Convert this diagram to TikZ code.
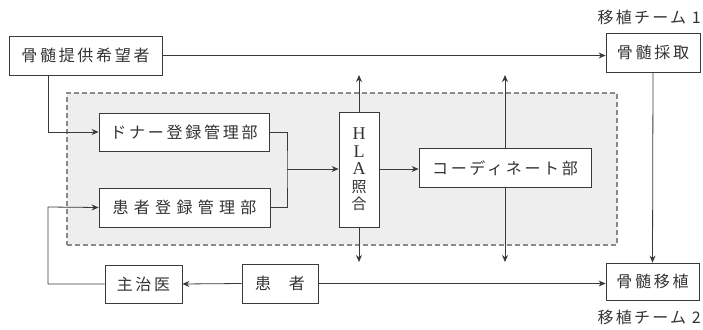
\documentclass[tikz,border=0pt]{standalone}
\usepackage{fontspec}
\setmainfont{Liberation Serif}
\newfontfamily\jp{Noto Sans CJK JP}[LetterSpace=17]
\newfontfamily\jpwide{Noto Sans CJK JP}[LetterSpace=33]
\newfontfamily\jplab{Noto Sans CJK JP}[LetterSpace=14]
\newfontfamily\jpplain{Noto Sans CJK JP}
\usetikzlibrary{arrows.meta}
\definecolor{linec}{HTML}{3A3A3A}
\definecolor{textc}{HTML}{333333}
\definecolor{areafill}{HTML}{EEEEEE}
\definecolor{areadraw}{HTML}{8A8A8A}
\begin{document}
\begin{tikzpicture}[x=1pt,y=-1pt,
  box/.style={draw=linec, fill=white, line width=0.8pt, inner sep=0pt, text=textc,
    font=\fontsize{16}{18}\selectfont\jp},
  conn/.style={draw=linec, line width=0.8pt},
  arr/.style={conn, -{Stealth[length=7pt,width=6pt]}},
  region/.style={draw=areadraw, fill=areafill, dashed, dash pattern=on 5pt off 3pt, line width=1.1pt, inner sep=0pt},
  lab/.style={text=textc, font=\fontsize{16}{18}\selectfont\jplab, inner sep=0pt, anchor=east}
]
\useasboundingbox (0,0) rectangle (703,329);
% shaded area
\node[region, minimum width=550pt, minimum height=152pt] (area) at (342,169) {};
% boxes
\node[box, minimum width=153pt, minimum height=39pt] (wish) at (85.5,55.5) {骨髄提供希望者};
\node[box, minimum width=94pt, minimum height=39pt] (saishu) at (653,52.5) {骨髄採取};
\node[box, minimum width=170pt, minimum height=38pt] (donor) at (184,132) {ドナー登録管理部};
\node[box, minimum width=171pt, minimum height=39pt, font=\fontsize{16}{18}\selectfont\jpwide] (patreg) at (184.5,207.5) {患者登録管理部};
\node[box, minimum width=40pt, minimum height=115pt, align=center,
  font=\fontsize{18}{19}\selectfont] (hla) at (359,169.5) {H\\[-1.5pt]L\\[-1.5pt]A\\[-1.5pt]{\jpplain\fontsize{15}{17}\selectfont 照}\\[-1.5pt]{\jpplain\fontsize{15}{17}\selectfont 合}};
\node[box, minimum width=172pt, minimum height=39pt] (coord) at (505,168) {コーディネート部};
\node[box, minimum width=93pt, minimum height=37pt] (ishoku) at (652.5,281.5) {骨髄移植};
\node[box, minimum width=76pt, minimum height=39pt, font=\fontsize{16}{18}\selectfont\jpplain] (kanja) at (280,283.5) {患\hspace{1.1em}者};
\node[box, minimum width=77pt, minimum height=38pt] (shuji) at (143.5,284) {主治医};
% labels
\node[lab] (t1) at (701,17) {移植チーム 1};
\node[lab] (t2) at (701,317) {移植チーム 2};
% helper coordinates
\coordinate (c1) at (48,132);
\coordinate (c2) at (48,207);
\coordinate (j) at (287,169);
\coordinate (hu) at (359,75);
\coordinate (hd) at (359,262);
\coordinate (cu) at (505,75);
\coordinate (cd) at (505,262);
% connectors
\draw[arr] (wish.east) -- (saishu.west |- wish.east);
\draw[arr] (wish.south -| c1) |- (donor.west);
\draw[conn] (donor.east) -| (j) |- (patreg.east);
\draw[arr] (j) -- (hla.west |- j);
\draw[arr] (hla.east |- j) -- (coord.west |- j);
\draw[arr] (hla.north) -- (hu);
\draw[arr] (hla.south) -- (hd);
\draw[arr] (coord.north) -- (cu);
\draw[arr] (coord.south) -- (cd);
\draw[arr] (saishu.south) -- (ishoku.north);
\draw[arr] (kanja.west) -- (shuji.east);
\draw[arr] (kanja.east) -- (ishoku.west |- kanja.east);
\draw[arr] (shuji.west) -| (c2) -- (patreg.west);
\end{tikzpicture}
\end{document}
